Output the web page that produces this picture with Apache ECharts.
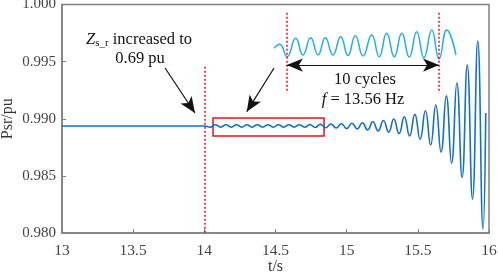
<!DOCTYPE html>
<html>
<head>
<meta charset="utf-8">
<script src="https://cdn.jsdelivr.net/npm/echarts@6/dist/echarts.min.js"></script>
<style>
html, body { margin: 0; padding: 0; background: #fff; }
#chart { width: 498px; height: 273px; }
</style>
</head>
<body>
<div id="chart"></div>
<script>
// axis ticks
const xTicks = [13, 13.5, 14, 14.5, 15, 15.5, 16];
const yTicks = [0.980, 0.985, 0.990, 0.995, 1.000];

// Psr trace (flat, then peaks/troughs of the 13.56 Hz swing)
const mainTime = [13.000, 14.000,
  14.041, 14.078, 14.115, 14.152, 14.189, 14.226, 14.263, 14.299, 14.336, 14.373,
  14.410, 14.447, 14.484, 14.520, 14.557, 14.594, 14.631, 14.668, 14.705, 14.742,
  14.779, 14.815, 14.852, 14.889, 14.926, 14.963, 15.000, 15.037, 15.074, 15.110,
  15.147, 15.184, 15.221, 15.258, 15.295, 15.331, 15.368, 15.405, 15.442, 15.479,
  15.516, 15.553, 15.590, 15.626, 15.663, 15.700, 15.737, 15.774, 15.811, 15.847,
  15.884, 15.921, 15.958, 15.977];
const mainValue = [0.98937, 0.98937,
  0.98926, 0.98948, 0.98926, 0.98948, 0.98926, 0.98948, 0.98926, 0.98948, 0.98926, 0.98948,
  0.98926, 0.98948, 0.98926, 0.98948, 0.98926, 0.98948, 0.98926, 0.98948, 0.98926, 0.98949,
  0.98924, 0.98951, 0.98921, 0.98954, 0.98919, 0.98956, 0.98915, 0.98960, 0.98911, 0.98965,
  0.98903, 0.98974, 0.98894, 0.98985, 0.98883, 0.98998, 0.98870, 0.99016, 0.98850, 0.99038,
  0.98820, 0.99070, 0.98771, 0.99121, 0.98708, 0.99200, 0.98610, 0.99313, 0.98486, 0.99471,
  0.98298, 0.99681, 0.98035, 0.99050];

// zoomed copy of the early oscillation (inset, drawn higher up)
const zoomTime = [14.490, 14.530, 14.581, 14.642, 14.693, 14.747, 14.799, 14.850, 14.904,
  14.958, 15.009, 15.061, 15.115, 15.176, 15.229, 15.281, 15.335, 15.387, 15.440, 15.492,
  15.543, 15.598, 15.649, 15.703, 15.768];
const zoomValue = [0.99617, 0.99652, 0.99543, 0.99704, 0.99558, 0.99709, 0.99558, 0.99709, 0.99558,
  0.99718, 0.99554, 0.99727, 0.99549, 0.99733, 0.99543, 0.99748, 0.99543, 0.99748, 0.99540, 0.99762,
  0.99534, 0.99777, 0.99523, 0.99777, 0.99558];

const eventTime = 14;
const cycleStart = 14.58;
const cycleEnd = 15.649;

const FONT = 'Liberation Serif';
const RED = '#e0141e';
const GRAY = '#808080';

const chart = echarts.init(document.getElementById('chart'));

const redDot = { color: RED, width: 1.5, type: [2, 2] };
const blackArrow = { color: '#111', width: 1.2, type: 'solid' };

chart.setOption({
  animation: false,
  grid: {
    left: 62, right: 9, top: 4.5, bottom: 40, show: true, borderColor: GRAY, borderWidth: 1.5,
    containLabel: false, outerBoundsMode: 'none'
  },
  xAxis: {
    type: 'value', min: xTicks[0], max: xTicks[xTicks.length - 1], interval: 0.5,
    name: 't/s', nameLocation: 'middle', nameGap: 26, nameMoveOverlap: false,
    nameTextStyle: { fontFamily: FONT, fontSize: 16, color: '#333' },
    axisLine: { lineStyle: { color: GRAY, width: 1.5 } },
    axisTick: { inside: true, length: 4, lineStyle: { color: GRAY } },
    axisLabel: { fontFamily: FONT, fontSize: 15.5, color: '#444', margin: 10 },
    splitLine: { show: false }
  },
  yAxis: {
    type: 'value', min: yTicks[0], max: yTicks[yTicks.length - 1], interval: 0.005,
    name: 'Psr/pu', nameLocation: 'middle', nameGap: 46, nameRotate: 90, nameMoveOverlap: false,
    nameTextStyle: { fontFamily: FONT, fontSize: 16, color: '#333' },
    axisLine: { lineStyle: { color: GRAY, width: 1.5 } },
    axisTick: { inside: true, length: 4, lineStyle: { color: GRAY } },
    axisLabel: { fontFamily: FONT, fontSize: 15, color: '#444', margin: 6, formatter: v => v.toFixed(3) },
    splitLine: { show: false }
  },
  series: [
    {
      type: 'line', name: 'Psr', showSymbol: false, smooth: 0.5,
      data: mainTime.map((t, i) => [t, mainValue[i]]),
      lineStyle: { color: '#1470c4', width: 1.6 },
      z: 3,
      markArea: {
        silent: true,
        itemStyle: { color: 'transparent', borderColor: RED, borderWidth: 1.5 },
        data: [[{ coord: [14.061, 0.99006] }, { coord: [14.841, 0.98849] }]]
      },
      markLine: {
        silent: true, symbol: 'none', label: { show: false },
        data: [
          [{ coord: [eventTime, 0.99456], lineStyle: redDot }, { coord: [eventTime, 0.980] }],
          [{ coord: [cycleStart, 0.99928], lineStyle: redDot }, { coord: [cycleStart, 0.99225] }],
          [{ coord: [cycleEnd, 0.99928], lineStyle: redDot }, { coord: [cycleEnd, 0.99225] }],
          [{ coord: [cycleStart, 0.99470], symbol: 'arrow', symbolSize: [10, 16], lineStyle: blackArrow },
           { coord: [cycleEnd, 0.99470], symbol: 'arrow', symbolSize: [10, 16] }],
          [{ coord: [13.724, 0.99444], symbol: 'none', lineStyle: blackArrow },
           { coord: [13.934, 0.99050], symbol: 'arrow', symbolSize: [10, 16] }],
          [{ coord: [14.490, 0.99444], symbol: 'none', lineStyle: blackArrow },
           { coord: [14.298, 0.99062], symbol: 'arrow', symbolSize: [10, 16] }]
        ]
      }
    },
    {
      type: 'line', name: 'zoom', showSymbol: false, smooth: 0.5,
      data: zoomTime.map((t, i) => [t, zoomValue[i]]),
      lineStyle: { color: '#1eaee8', width: 1.5 },
      z: 3
    }
  ],
  graphic: [
    {
      type: 'text', x: 139, y: 40,
      style: {
        text: '{i|Z}{s|s_r}{n| increased to}', textAlign: 'center', textVerticalAlign: 'middle',
        fill: '#111',
        rich: {
          i: { fontFamily: FONT, fontSize: 16.5, fontStyle: 'italic', fill: '#111' },
          s: { fontFamily: FONT, fontSize: 11, fill: '#111', verticalAlign: 'bottom', padding: [7, 0, 0, 0] },
          n: { fontFamily: FONT, fontSize: 16.5, fill: '#111' }
        }
      }
    },
    { type: 'text', x: 140, y: 59, style: { text: '0.69 pu', font: '16.5px "Liberation Serif"', fill: '#111', textAlign: 'center', textVerticalAlign: 'middle' } },
    { type: 'text', x: 365, y: 80, style: { text: '10 cycles', font: '16.5px "Liberation Serif"', fill: '#111', textAlign: 'center', textVerticalAlign: 'middle' } },
    {
      type: 'text', x: 363, y: 100,
      style: {
        text: '{i|f}{n| = 13.56 Hz}', textAlign: 'center', textVerticalAlign: 'middle', fill: '#111',
        rich: {
          i: { fontFamily: FONT, fontSize: 16.5, fontStyle: 'italic', fill: '#111' },
          n: { fontFamily: FONT, fontSize: 16.5, fill: '#111' }
        }
      }
    }
  ]
});
</script>
</body>
</html>
